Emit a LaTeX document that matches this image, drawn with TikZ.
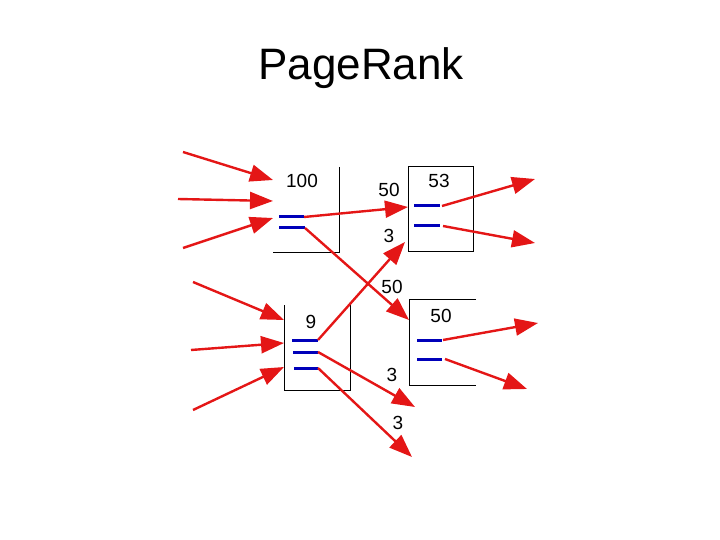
\documentclass[tikz,border=0pt]{standalone}
\usepackage{fontspec}
\setmainfont{Liberation Sans}
\usetikzlibrary{arrows.meta}
\definecolor{arrred}{RGB}{228,22,22}
\definecolor{barblue}{RGB}{0,0,185}
\tikzset{
  link/.style={draw=arrred, line width=2.4pt, -{Triangle[length=23pt,width=17pt]}},
  bar/.style={draw=barblue, line width=3pt},
  frame/.style={draw=black, line width=0.9pt},
  num/.style={inner sep=0pt, font=\fontsize{19}{19}\selectfont},
}
\begin{document}
\begin{tikzpicture}[x=1pt,y=-1pt]
\useasboundingbox (0,0) rectangle (720,540);
\node[inner sep=0pt, font=\fontsize{44}{44}\selectfont] (title) at (361,68) {PageRank};

% box A (100)
\draw[frame] (339,167) -- (339,252) -- (273,252);
\node[num] (tA) at (302,181) {100};
\coordinate (a1s) at (279,217); \coordinate (a1e) at (304,217);
\coordinate (a2s) at (279,228); \coordinate (a2e) at (305,228);
\draw[bar] (a1s) -- (a1e);
\draw[bar] (a2s) -- (a2e);

% box B (53)
\draw[frame] (408,166) rectangle (473,251);
\node[num] (tB) at (439,181) {53};
\coordinate (b1s) at (414,206); \coordinate (b1e) at (440,206);
\coordinate (b2s) at (414,226); \coordinate (b2e) at (440,226);
\draw[bar] (b1s) -- (b1e);
\draw[bar] (b2s) -- (b2e);

% box C (9)
\draw[frame] (284,305) -- (284,390) -- (350,390) -- (350,305);
\node[num] (tC) at (311,322) {9};
\coordinate (c1s) at (292,340); \coordinate (c1e) at (318,340);
\coordinate (c2s) at (293,352); \coordinate (c2e) at (318,352);
\coordinate (c3s) at (294,368); \coordinate (c3e) at (318,368);
\draw[bar] (c1s) -- (c1e);
\draw[bar] (c2s) -- (c2e);
\draw[bar] (c3s) -- (c3e);

% box D (50)
\draw[frame] (476,299) -- (409,299) -- (409,385) -- (476,385);
\node[num] (tD) at (441,316) {50};
\coordinate (d1s) at (417,340); \coordinate (d1e) at (442,340);
\coordinate (d2s) at (417,359); \coordinate (d2e) at (442,359);
\draw[bar] (d1s) -- (d1e);
\draw[bar] (d2s) -- (d2e);

% incoming arrows to A
\coordinate (ia1) at (183,152); \coordinate (ta1) at (273,180);
\coordinate (ia2) at (178,199); \coordinate (ta2) at (273,201);
\coordinate (ia3) at (183,248); \coordinate (ta3) at (273,218);
\draw[link] (ia1) -- (ta1);
\draw[link] (ia2) -- (ta2);
\draw[link] (ia3) -- (ta3);

% incoming arrows to C
\coordinate (ic1) at (193,282); \coordinate (tc1) at (284,320);
\coordinate (ic2) at (191,350); \coordinate (tc2) at (284,343);
\coordinate (ic3) at (193,410); \coordinate (tc3) at (284,367);
\draw[link] (ic1) -- (tc1);
\draw[link] (ic2) -- (tc2);
\draw[link] (ic3) -- (tc3);

% links between boxes
\coordinate (tb1) at (408,207);
\coordinate (tb2) at (405,242);
\coordinate (td1) at (409,320);
\coordinate (o1) at (415,407);
\coordinate (o2) at (412,457);
\draw[link] (a1e) -- (tb1);
\draw[link] (a2e) -- (td1);
\draw[link] (c1e) -- (tb2);
\draw[link] (c2e) -- (o1);
\draw[link] (c3e) -- (o2);

% outgoing arrows
\coordinate (ob1) at (535,179);
\coordinate (ob2) at (535,243);
\coordinate (od1) at (538,323);
\coordinate (od2) at (527,389);
\draw[link] ([xshift=2pt]b1e) -- (ob1);
\draw[link] ([xshift=3pt]b2e) -- (ob2);
\draw[link] ([xshift=1pt]d1e) -- (od1);
\draw[link] ([xshift=3pt]d2e) -- (od2);

% labels
\node[num] (l1) at (389,190) {50};
\node[num] (l2) at (389,236) {3};
\node[num] (l3) at (392,287) {50};
\node[num] (l4) at (392,375) {3};
\node[num] (l5) at (398,423) {3};
\end{tikzpicture}
\end{document}
